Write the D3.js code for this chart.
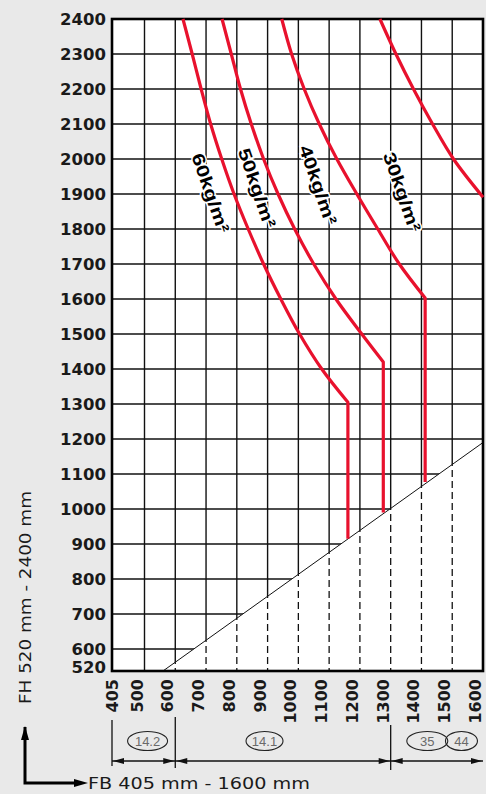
<!DOCTYPE html>
<html lang="de">
<head>
<meta charset="UTF-8">
<title>FB / FH Diagramm</title>
<script src="https://d3js.org/d3.v7.min.js"></script>
<style>
  html, body { margin: 0; padding: 0; background: #e9e9e9; }
  svg { display: block; }
</style>
</head>
<body>
<script>
// Achsen
const fbTicks = [405, 500, 600, 700, 800, 900, 1000, 1100, 1200, 1300, 1400, 1500, 1600];
const fhTicks = [520, 600, 700, 800, 900, 1000, 1100, 1200, 1300, 1400, 1500, 1600, 1700, 1800, 1900, 2000, 2100, 2200, 2300, 2400];

// Kurven (FB in mm, FH in mm); letzter Punkt = Ende des senkrechten Teils
const fb60 = [625, 655, 684, 715, 751, 791, 837, 887, 943, 1004, 1076, 1161, 1161];
const fh60 = [2400, 2300, 2200, 2100, 2000, 1900, 1800, 1700, 1600, 1500, 1400, 1305, 915];
const fb50 = [752, 782, 812, 847, 887, 934, 988, 1050, 1122, 1206, 1276, 1276];
const fh50 = [2400, 2300, 2200, 2100, 2000, 1900, 1800, 1700, 1600, 1500, 1420, 990];
const fb40 = [946, 978, 1019, 1068, 1125, 1190, 1258, 1328, 1412, 1412];
const fh40 = [2400, 2300, 2200, 2100, 2000, 1900, 1800, 1700, 1603, 1077];
const fb30 = [1265, 1317, 1374, 1436, 1504, 1600];
const fh30 = [2400, 2300, 2200, 2100, 2000, 1891];

// Beschriftungen der Kurven
const curveLabels = ["60kg/m²", "50kg/m²", "40kg/m²", "30kg/m²"];
const labelFB = [715, 866, 1064, 1337];
const labelFH = [1903, 1917, 1926, 1906];

// Grenzlinie (diagonal)
const diagFB = [560, 1600];
const diagFH = [520, 1190];

// Bemaßung unten
const dimFB = [405, 600, 1300, 1600];
const ovalText = ["14.2", "14.1", "35", "44"];
const ovalFB = [510, 890, 1419, 1530];

const W = 486, H = 794;
const red = "#e8112d";

const svg = d3.select("body").append("svg")
  .attr("width", W).attr("height", H);

const x = d3.scaleLinear().domain([405, 500, 1600]).range([112, 144.5, 483]);
const y = d3.scaleLinear().domain([520, 600, 2400]).range([671, 649, 19]);

// weiße Zeichenfläche
svg.append("rect")
  .attr("x", x(405)).attr("y", y(2400))
  .attr("width", x(1600) - x(405)).attr("height", y(520) - y(2400))
  .attr("fill", "#fff");

// Bereiche über / unter der Diagonale
const d0 = [x(diagFB[0]), y(diagFH[0])], d1 = [x(diagFB[1]), y(diagFH[1])];
const defs = svg.append("defs");
defs.append("clipPath").attr("id", "above").append("polygon")
  .attr("points", [[x(405), y(2400)], [x(1600), y(2400)], d1, d0, [x(405), y(520)]].join(" "));
defs.append("clipPath").attr("id", "below").append("polygon")
  .attr("points", [d0, d1, [x(1600), y(520)]].join(" "));

const gridV = fbTicks.slice(1, -1);
const gridH = fhTicks.slice(1, -1);

const gAbove = svg.append("g").attr("clip-path", "url(#above)");
gAbove.selectAll("line.v").data(gridV).join("line")
  .attr("x1", d => x(d)).attr("x2", d => x(d))
  .attr("y1", y(2400)).attr("y2", y(520))
  .attr("stroke", "#111").attr("stroke-width", 1.4);
gAbove.selectAll("line.h").data(gridH).join("line")
  .attr("x1", x(405)).attr("x2", x(1600))
  .attr("y1", d => y(d)).attr("y2", d => y(d))
  .attr("stroke", "#111").attr("stroke-width", 1.4);

const gBelow = svg.append("g").attr("clip-path", "url(#below)");
gBelow.selectAll("line").data(gridV).join("line")
  .attr("x1", d => x(d)).attr("x2", d => x(d))
  .attr("y1", y(2400)).attr("y2", y(520))
  .attr("stroke", "#111").attr("stroke-width", 1.3)
  .attr("stroke-dasharray", "7,4");

// Diagonale
svg.append("line")
  .attr("x1", d0[0]).attr("y1", d0[1]).attr("x2", d1[0]).attr("y2", d1[1])
  .attr("stroke", "#111").attr("stroke-width", 1);

// Rahmen
svg.append("rect")
  .attr("x", x(405)).attr("y", y(2400))
  .attr("width", x(1600) - x(405)).attr("height", y(520) - y(2400))
  .attr("fill", "none").attr("stroke", "#000").attr("stroke-width", 2.6);

// rote Kurven: geschwungener Teil + senkrechter Abschluss
const series = [[fb60, fh60, true], [fb50, fh50, true], [fb40, fh40, true], [fb30, fh30, false]];
const smooth = d3.line()
  .x(d => x(d[0])).y(d => y(d[1]))
  .curve(d3.curveCatmullRom.alpha(0.5));
svg.append("g").selectAll("path").data(series).join("path")
  .attr("d", s => {
    const pts = s[0].map((v, i) => [v, s[1][i]]);
    if (!s[2]) return smooth(pts);
    const end = pts.pop();
    return smooth(pts) + `L${x(end[0])},${y(end[1])}`;
  })
  .attr("fill", "none").attr("stroke", red)
  .attr("stroke-width", 3.2).attr("stroke-linejoin", "round");

// Kurvenbeschriftung
svg.append("g").selectAll("text").data(curveLabels).join("text")
  .attr("transform", (d, i) => `translate(${x(labelFB[i])},${y(labelFH[i])}) rotate(71)`)
  .attr("text-anchor", "middle").attr("dy", "0.35em")
  .attr("font-family", "Liberation Sans, Arial, sans-serif")
  .attr("font-weight", "bold").attr("font-size", 17.5)
  .attr("textLength", 83).attr("lengthAdjust", "spacingAndGlyphs")
  .attr("stroke", "#fff").attr("stroke-width", 3).attr("paint-order", "stroke")
  .attr("fill", "#000")
  .text(d => d);

// Achsbeschriftungen
svg.append("g").selectAll("text").data(fhTicks).join("text")
  .attr("x", 106)
  .attr("y", d => y(d) - (d === 520 ? 4 : 0))
  .attr("dy", "0.36em").attr("text-anchor", "end")
  .attr("font-family", "DejaVu Sans, sans-serif")
  .attr("font-weight", "bold").attr("font-size", 16.5)
  .attr("fill", "#1a1a1a")
  .text(d => d);

svg.append("g").selectAll("text").data(fbTicks).join("text")
  .attr("transform", d => `translate(${d === 405 ? x(d) + 6 : x(d) - 2},679) rotate(-90)`)
  .attr("text-anchor", "end")
  .attr("font-family", "DejaVu Sans, sans-serif")
  .attr("font-weight", "bold").attr("font-size", 16)
  .attr("fill", "#1a1a1a")
  .text(d => d);

// Bemaßung
const dimY = 761;
const dim = svg.append("g").attr("stroke", "#111").attr("fill", "#111");
dim.append("line")
  .attr("x1", x(405)).attr("x2", x(1600))
  .attr("y1", dimY).attr("y2", dimY).attr("stroke-width", 1.3);
dim.selectAll("line.ext").data(dimFB.slice(0, -1)).join("line")
  .attr("x1", d => x(d)).attr("x2", d => x(d))
  .attr("y1", (d, i) => [720, 717, 725][i]).attr("y2", (d, i) => [766, 768, 770][i])
  .attr("stroke-width", 1.3);

function arrow(tipX, dir) {
  // dir = -1: Spitze zeigt nach links, +1: nach rechts
  const b = tipX - dir * 11;
  return `M${tipX},${dimY}L${b},${dimY - 3}L${b},${dimY + 3}Z`;
}
const arrows = [];
dimFB.forEach((v, i) => {
  if (i < dimFB.length - 1) arrows.push(arrow(x(v) + 1, -1));
  if (i > 0) arrows.push(arrow(x(v) - 1, 1));
});
dim.selectAll("path").data(arrows).join("path")
  .attr("d", d => d).attr("stroke", "none");

const ovals = svg.append("g");
ovals.selectAll("ellipse").data(ovalText).join("ellipse")
  .attr("cx", (d, i) => x(ovalFB[i])).attr("cy", 741)
  .attr("rx", (d, i) => [20, 18.5, 20.5, 16][i]).attr("ry", 9.5)
  .attr("fill", "none").attr("stroke", "#222").attr("stroke-width", 1.1);
ovals.selectAll("text").data(ovalText).join("text")
  .attr("x", (d, i) => x(ovalFB[i])).attr("y", 741)
  .attr("dy", "0.35em").attr("text-anchor", "middle")
  .attr("font-family", "Liberation Sans, Arial, sans-serif")
  .attr("font-size", 13).attr("fill", "#6a6a6a")
  .text(d => d);

// Achsentitel mit Pfeilen
const ax = svg.append("g").attr("stroke", "#000").attr("fill", "#000");
ax.append("path").attr("d", "M25,727V783H80").attr("fill", "none").attr("stroke-width", 3);
ax.append("path").attr("d", "M25,726L21,740H29Z").attr("stroke", "none");
ax.append("path").attr("d", "M88,783L74,779V787Z").attr("stroke", "none");

svg.append("text")
  .attr("transform", "translate(31,704) rotate(-90)")
  .attr("font-family", "DejaVu Sans, sans-serif").attr("font-size", 16.5)
  .attr("textLength", 213).attr("lengthAdjust", "spacingAndGlyphs")
  .attr("fill", "#1a1a1a")
  .text("FH 520 mm - 2400 mm");

svg.append("text")
  .attr("x", 88).attr("y", 789)
  .attr("font-family", "DejaVu Sans, sans-serif").attr("font-size", 16.5)
  .attr("textLength", 222).attr("lengthAdjust", "spacingAndGlyphs")
  .attr("fill", "#1a1a1a")
  .text("FB 405 mm - 1600 mm");
</script>
</body>
</html>
